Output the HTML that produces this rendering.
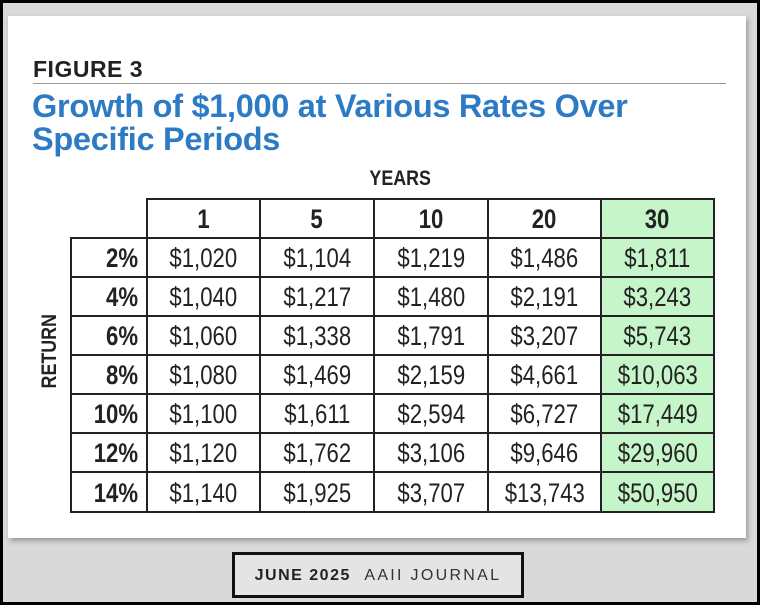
<!DOCTYPE html>
<html><head><style>
body{margin:0;width:760px;height:605px;overflow:hidden;background:#000;font-family:"Liberation Sans",sans-serif}
#outer{position:absolute;left:3px;top:3px;width:754px;height:599px;background:#d9d9d9}
#card{position:absolute;left:8px;top:16px;width:738px;height:522px;background:#fff;box-shadow:2px 3px 5px #999}
.a{position:absolute}
.c{position:absolute;box-sizing:border-box;border:2px solid #222;display:flex;align-items:center;justify-content:center;font-size:27px;color:#222;padding-top:2px}
.c span{display:inline-block;transform:scaleX(0.82)}
.g{background:#c6f5c9}
.b{font-weight:bold}
.r{justify-content:flex-end;padding-right:8px}
.r span{transform-origin:right center}
</style></head><body>
<div id="outer"></div>
<div id="card"></div>
<div class="a" style="left:33px;top:56px;font-size:23px;font-weight:bold;color:#222;letter-spacing:0.5px">FIGURE 3</div>
<div class="a" style="left:33px;top:83px;width:693px;height:1px;background:#999"></div>
<div class="a" style="left:32px;top:90px;font-size:32.5px;line-height:33px;font-weight:bold;color:#2e7bc5;letter-spacing:-0.3px">Growth of $1,000 at Various Rates Over<br>Specific Periods</div>
<div class="a" style="left:364px;top:167px;font-size:21px;font-weight:bold;color:#222"><span style="display:inline-block;transform:scaleX(0.85)">YEARS</span></div>
<div class="a" style="left:10px;top:343px;width:80px;text-align:center;font-size:21px;font-weight:bold;color:#222;transform:rotate(-90deg)"><span style="display:inline-block;transform:scaleX(0.85)">RETURN</span></div>
<div id="t"></div>
<script>
var xs=[70,146,259,373,487,600,713],ys=[198,237,276,315,354,393,432,471,511];
var hd=["1","5","10","20","30"];
var rows=[["2%","$1,020","$1,104","$1,219","$1,486","$1,811"],["4%","$1,040","$1,217","$1,480","$2,191","$3,243"],["6%","$1,060","$1,338","$1,791","$3,207","$5,743"],["8%","$1,080","$1,469","$2,159","$4,661","$10,063"],["10%","$1,100","$1,611","$2,594","$6,727","$17,449"],["12%","$1,120","$1,762","$3,106","$9,646","$29,960"],["14%","$1,140","$1,925","$3,707","$13,743","$50,950"]];
var h="";
function cell(x1,x2,y1,y2,txt,cls){h+='<div class="c '+cls+'" style="left:'+x1+'px;top:'+y1+'px;width:'+(x2-x1+2)+'px;height:'+(y2-y1+2)+'px"><span>'+txt+'</span></div>';}
for(var i=0;i<5;i++)cell(xs[i+1],xs[i+2],ys[0],ys[1],hd[i],"b"+(i==4?" g":""));
for(var r=0;r<7;r++)for(var c=0;c<6;c++)cell(xs[c],xs[c+1],ys[r+1],ys[r+2],rows[r][c],(c==0?"b r":"")+(c==5?" g":""));
document.getElementById("t").innerHTML=h;
</script>
<div class="a" style="left:232px;top:552px;width:286px;height:40px;border:3px solid #111;background:#e4e4e4;text-align:center;line-height:42px;font-size:16px;color:#333;letter-spacing:2.3px;white-space:nowrap"><b style="color:#222;letter-spacing:1.5px">JUNE 2025</b>&nbsp;&nbsp;AAII JOURNAL</div>
</body></html>
